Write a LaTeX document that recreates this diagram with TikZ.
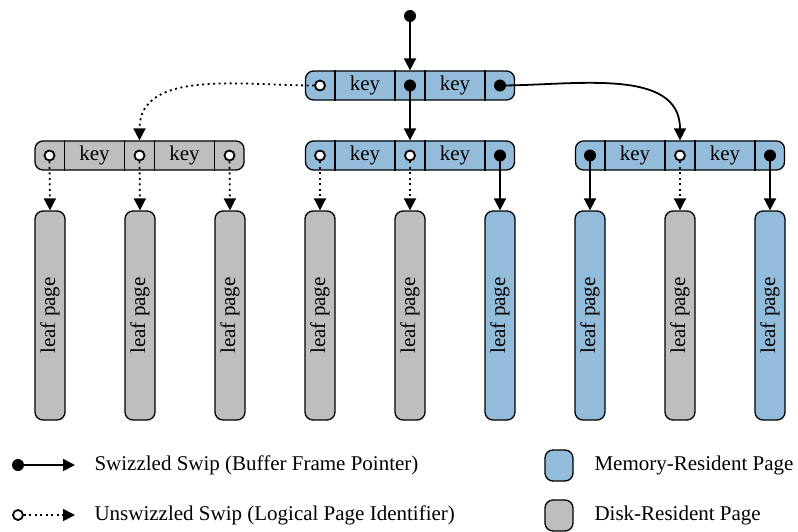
\documentclass[tikz,border=0pt]{standalone}
\usepackage{fontspec}
\setmainfont{Liberation Serif}
\usepackage{graphicx}
\usetikzlibrary{arrows.meta}
\definecolor{memblue}{HTML}{93BCDB}
\definecolor{diskgray}{HTML}{BEBEBE}

\tikzset{
  every node/.style={font=\fontsize{21}{25}\selectfont},
  pagebox/.style={draw, line width=1.3pt, rounded corners=8pt},
  innerpage/.style={pagebox, minimum width=209pt, minimum height=29pt, inner sep=0pt},
  leafpage/.style={pagebox, minimum width=30pt, minimum height=209pt, inner sep=0pt},
  swizzled/.style={circle, fill=black, inner sep=0pt, minimum size=12pt},
  unswizzled/.style={circle, draw, line width=1.8pt, fill=white, inner sep=0pt, minimum size=10pt},
  solidptr/.style={line width=1.8pt, -{Triangle[length=12pt,width=12pt]}},
  dottedptr/.style={solidptr, dash pattern=on 2pt off 3.5pt},
}

% inner node: name, x, y, fill colour
\newcommand\innernode[4]{%
  \node[innerpage, fill=#4] (#1) at (#2,#3) {};
  \foreach \dx in {-75,-15,15,75}
    \draw[line width=1.3pt] ([xshift=\dx pt]#1.north) -- ([xshift=\dx pt]#1.south);
  \node (#1-k1) at ([xshift=-45pt]#1.center) {key};
  \node (#1-k2) at ([xshift=45pt]#1.center) {key};
}
% pointer slot marks: node, style of slot 1, 2, 3
\newcommand\slots[4]{%
  \node[#2] (#1-p1) at ([xshift=-90pt]#1.center) {};
  \node[#3] (#1-p2) at (#1.center) {};
  \node[#4] (#1-p3) at ([xshift=90pt]#1.center) {};
}
\newcommand\leaf[3]{%
  \node[leafpage, fill=#3] (#1) at (#2,315.5) {\rotatebox{90}{leaf page}};
}

\begin{document}
\begin{tikzpicture}[x=1pt,y=-1pt]
\useasboundingbox (0,0) rectangle (798,532);

% root pointer
\node[swizzled] (root) at (410,16) {};

% inner nodes
\innernode{top}{410}{85.5}{memblue}
\innernode{left}{139.5}{155.5}{diskgray}
\innernode{mid}{410}{155.5}{memblue}
\innernode{right}{680}{155.5}{memblue}

\slots{top}{unswizzled}{swizzled}{swizzled}
\slots{left}{unswizzled}{unswizzled}{unswizzled}
\slots{mid}{unswizzled}{unswizzled}{swizzled}
\slots{right}{swizzled}{unswizzled}{swizzled}

% leaf pages
\leaf{l1}{50}{diskgray}
\leaf{l2}{140}{diskgray}
\leaf{l3}{230}{diskgray}
\leaf{l4}{320}{diskgray}
\leaf{l5}{410}{diskgray}
\leaf{l6}{500}{memblue}
\leaf{l7}{590}{memblue}
\leaf{l8}{680}{diskgray}
\leaf{l9}{770}{memblue}

% pointers between levels
\draw[solidptr] (root.center) -- (top.north);
\draw[solidptr] (top-p2.center) -- (mid.north);
\draw[dottedptr] (top-p1.west) to[out=180,in=90] (left.north -| left-p2);
\draw[solidptr] (top-p3.center) to[out=0,in=90] (right.north -| right-p2);

\draw[dottedptr] (left-p1.south) -- (l1.north);
\draw[dottedptr] (left-p2.south) -- (l2.north);
\draw[dottedptr] (left-p3.south) -- (l3.north);
\draw[dottedptr] (mid-p1.south) -- (l4.north);
\draw[dottedptr] (mid-p2.south) -- (l5.north);
\draw[solidptr] (mid-p3.center) -- (l6.north);
\draw[solidptr] (right-p1.center) -- (l7.north);
\draw[dottedptr] (right-p2.south) -- (l8.north);
\draw[solidptr] (right-p3.center) -- (l9.north);

% legend
\node[swizzled] (lgs) at (18,465) {};
\coordinate (lgsend) at (75,465);
\draw[solidptr] (lgs.center) -- (lgsend);
\node[anchor=west] (lgstext) at (91,465) {Swizzled Swip (Buffer Frame Pointer)};

\node[unswizzled] (lgu) at (18,515) {};
\coordinate (lguend) at (75,515);
\draw[dottedptr] (lgu.east) -- (lguend);
\node[anchor=west] (lgutext) at (91,515) {Unswizzled Swip (Logical Page Identifier)};

\node[pagebox, fill=memblue, minimum width=28pt, minimum height=31pt] (lgmem) at (559,465.5) {};
\node[anchor=west] (lgmemtext) at (591,465) {Memory-Resident Page};
\node[pagebox, fill=diskgray, minimum width=28pt, minimum height=31pt] (lgdisk) at (559,515.5) {};
\node[anchor=west] (lgdisktext) at (591,515) {Disk-Resident Page};
\end{tikzpicture}
\end{document}
